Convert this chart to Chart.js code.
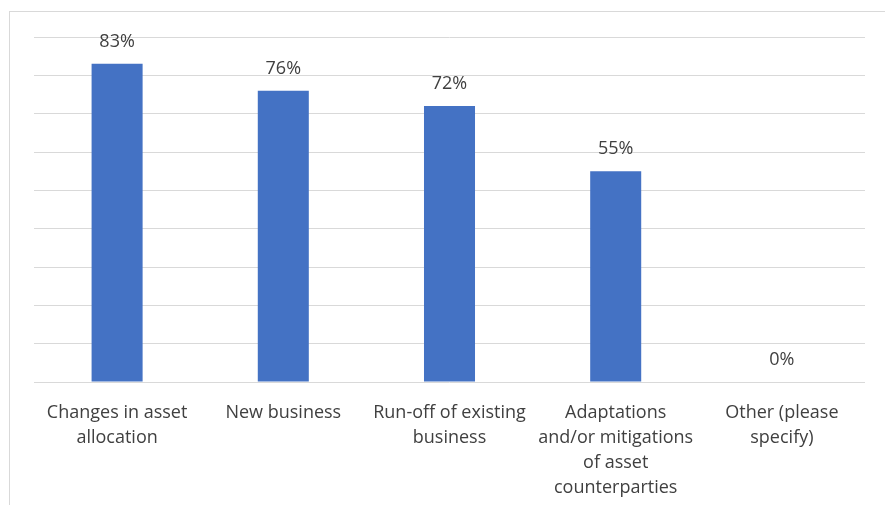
<!DOCTYPE html>
<html>
<head>
<meta charset="utf-8">
<script src="https://cdn.jsdelivr.net/npm/chart.js@4/dist/chart.umd.min.js"></script>
<style>
  html, body { margin: 0; padding: 0; background: #fff; }
  #wrap { width: 885px; height: 505px; position: relative; }
</style>
</head>
<body>
<div id="wrap"><canvas id="chart" width="885" height="505"></canvas></div>
<script>
const categories = [
  ['Changes in asset', 'allocation'],
  ['New business'],
  ['Run-off of existing', 'business'],
  ['Adaptations', 'and/or mitigations', 'of asset', 'counterparties'],
  ['Other (please', 'specify)']
];
const shares = [83, 76, 72, 55, 0];

const textColor = '#404040';
const fontFamily = '"Open Sans", "Liberation Sans", sans-serif';

// outer frame + percentage labels above each bar
const decor = {
  id: 'decor',
  beforeDraw(chart) {
    const c = chart.ctx;
    c.save();
    c.strokeStyle = '#D9D9D9';
    c.lineWidth = 1;
    c.strokeRect(9.5, 11.5, 900, 520);
    c.restore();
  },
  afterDatasetsDraw(chart) {
    const c = chart.ctx;
    const meta = chart.getDatasetMeta(0);
    c.save();
    c.fillStyle = textColor;
    c.font = '18px ' + fontFamily;
    c.textAlign = 'center';
    c.textBaseline = 'middle';
    meta.data.forEach((bar, i) => {
      c.fillText(shares[i] + '%', bar.x, bar.y - 22);
    });
    c.restore();
  }
};

new Chart(document.getElementById('chart'), {
  type: 'bar',
  data: {
    labels: categories,
    datasets: [{
      data: shares,
      backgroundColor: '#4472C4',
      categoryPercentage: 1,
      barPercentage: 0.307
    }]
  },
  options: {
    responsive: false,
    animation: false,
    layout: { padding: { left: 34, right: 20, top: 37, bottom: 0 } },
    plugins: { legend: { display: false }, tooltip: { enabled: false } },
    scales: {
      x: {
        grid: { display: false },
        border: { display: false },
        ticks: {
          color: textColor,
          font: { family: fontFamily, size: 18, lineHeight: 1.39 },
          padding: 10,
          maxRotation: 0,
          autoSkip: false
        },
        afterFit(scale) { scale.height = 123; }
      },
      y: {
        min: 0,
        max: 90,
        ticks: { display: false, stepSize: 10 },
        grid: { color: '#D9D9D9', lineWidth: 1, drawTicks: false },
        border: { display: false },
        afterFit(scale) { scale.width = 0; }
      }
    }
  },
  plugins: [decor]
});
</script>
</body>
</html>
